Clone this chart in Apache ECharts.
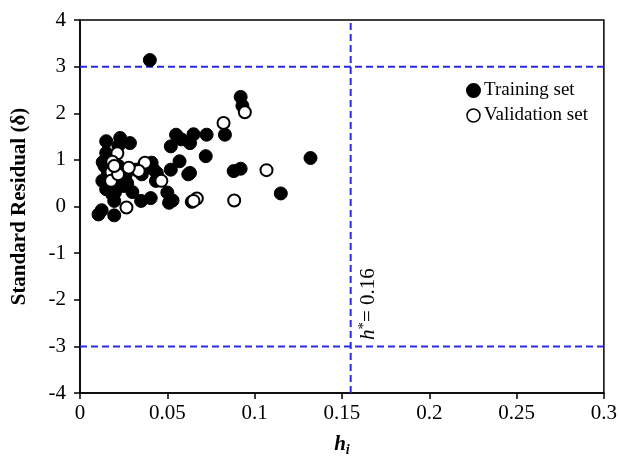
<!DOCTYPE html>
<html>
<head>
<meta charset="utf-8">
<script src="https://cdn.jsdelivr.net/npm/echarts@6/dist/echarts.min.js"></script>
<style>html,body{margin:0;padding:0;background:#fff}#c{width:620px;height:462px}</style>
</head>
<body>
<div id="c"></div>
<script>
// Training set (filled)
const trainX = [0.040,0.092,0.093,0.083,0.0725,0.065,0.055,0.063,0.058,0.052,0.072,0.057,0.052,0.063,0.062,0.088,0.092,0.132,0.115,0.051,0.050,0.053,0.064,0.0405,0.035,0.030,0.0196,0.0106,0.0124,0.0196,
  0.015,0.015,0.023,0.0286,0.014,0.0128,0.015,0.0185,0.022,0.024,0.026,0.025,0.022,0.041,0.042,0.0354,0.0435,0.032,0.017,0.016,0.0367,0.044,0.018,0.020,0.027,0.013];
const trainY = [3.14,2.35,2.16,1.54,1.54,1.55,1.54,1.36,1.44,1.29,1.08,0.97,0.79,0.72,0.69,0.76,0.81,1.04,0.28,0.08,0.30,0.13,0.10,0.18,0.12,0.31,-0.19,-0.17,-0.08,0.12,
  1.40,1.15,1.47,1.36,0.87,0.55,0.37,0.26,0.87,0.58,0.65,0.44,1.30,0.94,0.80,0.69,0.55,0.79,1.00,0.72,0.90,0.72,0.40,0.30,0.50,0.95];
// Validation set (open)
const valX = [0.0944,0.0822,0.1068,0.0883,0.0669,0.065,0.0266,0.0466,0.0372,0.0336,0.0279,0.0214,0.0185,0.018,0.0178,0.0218,0.0196];
const valY = [2.02,1.79,0.78,0.13,0.17,0.12,-0.02,0.55,0.94,0.76,0.83,1.14,0.96,0.74,0.55,0.69,0.87];
// Thresholds
const hStar = 0.155;
const residualLimits = [3, -3];
const xTicks = [0, 0.05, 0.1, 0.15, 0.2, 0.25, 0.3];
const yTicks = [-4, -3, -2, -1, 0, 1, 2, 3, 4];

const serif = '"Liberation Serif", "Times New Roman", serif';
const blue = '#2a2ae6';
const chart = echarts.init(document.getElementById('c'));

const series = [];
residualLimits.forEach(v => {
  series.push({type:'line', silent:true, symbol:'none', data:[[xTicks[0],v],[xTicks[xTicks.length-1],v]],
    lineStyle:{color:blue,width:2,type:[7,4]}, z:1});
});
series.push({type:'line', silent:true, symbol:'none', data:[[hStar,yTicks[0]],[hStar,yTicks[yTicks.length-1]]],
  lineStyle:{color:blue,width:2,type:[7,4]}, z:1});
series.push({name:'Training set', type:'scatter', symbol:'circle', symbolSize:13,
  itemStyle:{color:'#000', borderColor:'#000', borderWidth:1, opacity:1},
  data: trainX.map((x,i)=>[x,trainY[i]]), z:3});
series.push({name:'Validation set', type:'scatter', symbol:'circle', symbolSize:12,
  itemStyle:{color:'#fff', borderColor:'#000', borderWidth:2, opacity:1},
  data: valX.map((x,i)=>[x,valY[i]]), z:4});

chart.setOption({
  animation:false,
  backgroundColor:'#fff',
  grid:{left:80, right:13, top:20, bottom:68, show:true, borderColor:'#000', borderWidth:1.5},
  legend:{
    data:[{name:'Training set', icon:'circle', itemStyle:{color:'#000',borderColor:'#000'}},
          {name:'Validation set', icon:'circle', itemStyle:{color:'#fff',borderColor:'#000',borderWidth:1.5}}],
    orient:'vertical', left:461, top:76, itemWidth:13, itemHeight:13, itemGap:6,
    textStyle:{fontFamily:serif, fontSize:19, color:'#000', padding:[0,0,0,-1]}
  },
  xAxis:{type:'value', min:0, max:0.3, interval:0.05,
    axisLine:{onZero:false, lineStyle:{color:'#000',width:1.5}},
    axisTick:{show:true, inside:false, length:6, lineStyle:{color:'#000',width:1.5}},
    splitLine:{show:false},
    axisLabel:{fontFamily:serif, fontSize:21, color:'#000', margin:10,
      formatter:v=>String(+v.toFixed(2))},
    name:'{b|h}{s|i}', nameLocation:'middle', nameGap:40,
    nameTextStyle:{rich:{b:{fontFamily:serif,fontSize:21,fontWeight:'bold',fontStyle:'italic',color:'#000'},
      s:{fontFamily:serif,fontSize:14,fontWeight:'bold',fontStyle:'italic',color:'#000',verticalAlign:'bottom',padding:[10,0,0,0]}}}
  },
  yAxis:{type:'value', min:-4, max:4, interval:1,
    axisLine:{onZero:false, lineStyle:{color:'#000',width:1.5}},
    axisTick:{show:true, inside:false, length:6, lineStyle:{color:'#000',width:1.5}},
    splitLine:{show:false},
    axisLabel:{fontFamily:serif, fontSize:21, color:'#000', margin:14},
    name:'Standard Residual (δ)', nameLocation:'middle', nameGap:50,
    nameTextStyle:{fontFamily:serif, fontSize:21, fontWeight:'bold', color:'#000'}
  },
  graphic:[{type:'text', x:357, y:340, rotation:Math.PI/2,
    style:{text:'{i|h}{s|*}{n|= 0.16}', rich:{
      i:{fontFamily:serif,fontSize:21,fontStyle:'italic',fill:'#000'},
      s:{fontFamily:serif,fontSize:15,fill:'#000',verticalAlign:'top',padding:[0,0,8,0]},
      n:{fontFamily:serif,fontSize:21,fill:'#000'}}}}],
  series:series
});
</script>
</body>
</html>
